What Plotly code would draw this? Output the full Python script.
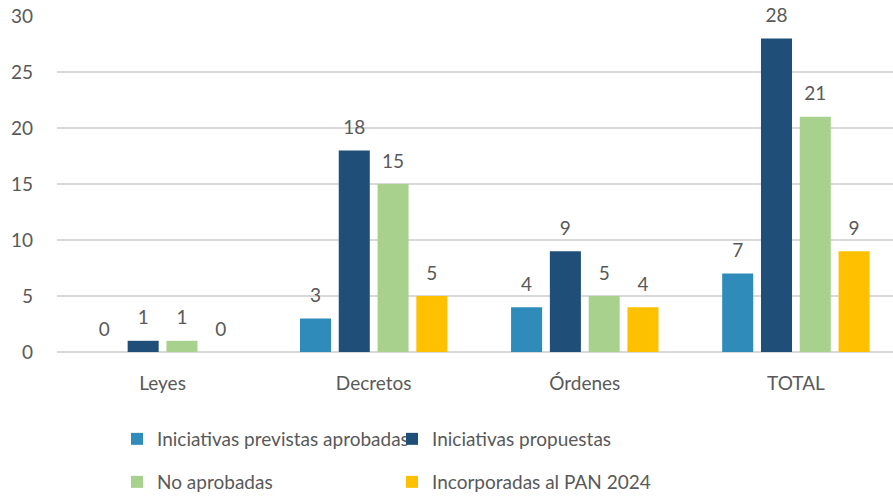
import plotly.graph_objects as go

categories = ["Leyes", "Decretos", "Órdenes", "TOTAL"]
series_names = ["Iniciativas previstas aprobadas", "Iniciativas propuestas",
                "No aprobadas", "Incorporadas al PAN 2024"]
prev_aprobadas = [0, 3, 4, 7]
propuestas = [1, 18, 9, 28]
no_aprobadas = [1, 15, 5, 21]
incorporadas = [0, 5, 4, 9]
y_ticks = [0, 5, 10, 15, 20, 25, 30]

series_values = [prev_aprobadas, propuestas, no_aprobadas, incorporadas]
colors = ["#2E8BBA", "#1F4E79", "#A9D18E", "#FFC000"]
legends = ["legend", "legend", "legend2", "legend2"]

FONT = "Lato"
TXT = "#595959"
FS = 19
GAP = 0.265
W, H = 893, 497

fig = go.Figure()
for name, vals, col, lg in zip(series_names, series_values, colors, legends):
    fig.add_trace(go.Bar(
        x=categories, y=vals, name=name, marker_color=col,
        marker_line_width=0, legend=lg, hoverinfo="skip",
    ))
for name, vals in zip(series_names, series_values):
    fig.add_trace(go.Scatter(
        x=categories, y=vals, mode="markers+text", text=[str(v) for v in vals],
        textposition="top center", textfont=dict(family=FONT, size=FS, color=TXT),
        marker=dict(size=17, opacity=0), showlegend=False, hoverinfo="skip",
        cliponaxis=False,
    ))

fig.update_layout(
    width=W, height=H,
    margin=dict(l=57, r=0, t=16, b=145, autoexpand=False),
    plot_bgcolor="white", paper_bgcolor="white",
    barmode="group", bargap=GAP, bargroupgap=0.2,
    scattermode="group", scattergap=GAP,
    font=dict(family=FONT, size=FS, color=TXT),
    xaxis=dict(range=[-0.5, 3.46], showgrid=False, ticks="", showline=False,
               automargin=False,
               tickfont=dict(size=FS, color=TXT), ticklabelstandoff=18),
    yaxis=dict(range=[0, 30], tickvals=y_ticks, showgrid=True, gridcolor="#D9D9D9",
               gridwidth=1.5, zeroline=True, zerolinecolor="#D9D9D9", zerolinewidth=1.5,
               automargin=False,
               tickfont=dict(size=FS, color=TXT), ticks="", ticklabelstandoff=23),
    legend=dict(orientation="h", xref="container", yref="container",
                x=117 / W, y=1 - 420 / H, xanchor="left", yanchor="top",
                entrywidth=230, font=dict(size=FS, color=TXT), itemclick=False),
    legend2=dict(orientation="h", xref="container", yref="container",
                 x=117 / W, y=1 - 463 / H, xanchor="left", yanchor="top",
                 entrywidth=230, font=dict(size=FS, color=TXT), itemclick=False),
)

fig.write_html(
    "out.html",
    config={"displayModeBar": False},
    post_script="document.body.style.margin='0';document.body.style.overflow='hidden';",
)
